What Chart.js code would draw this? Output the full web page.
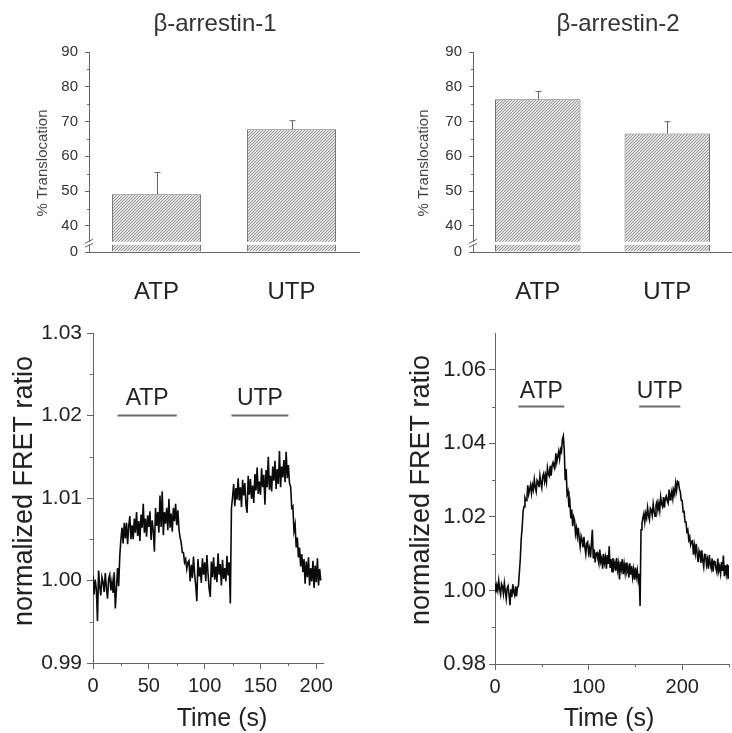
<!DOCTYPE html>
<html>
<head>
<meta charset="utf-8">
<script src="https://cdn.jsdelivr.net/npm/chart.js@4.4.1/dist/chart.umd.min.js"></script>
<style>
  html, body { margin: 0; padding: 0; background: #fff; }
  #wrap { position: relative; width: 732px; height: 733px; overflow: hidden; }
  canvas { position: absolute; }
</style>
</head>
<body>
<div id="wrap">
  <canvas id="barArr1" width="366" height="310" style="left:0;top:0"></canvas>
  <canvas id="barArr2" width="366" height="310" style="left:366px;top:0"></canvas>
  <canvas id="fretArr1" width="366" height="423" style="left:0;top:310px"></canvas>
  <canvas id="fretArr2" width="366" height="423" style="left:366px;top:310px"></canvas>
</div>
<script>
const FONT = '"Liberation Sans", Arial, Helvetica, sans-serif';
Chart.defaults.font.family = FONT;
Chart.defaults.color = '#333';
Chart.defaults.animation = false;

// ---- bar data (% translocation, mean and SEM) ----
const agonists = ['ATP', 'UTP'];
const arr1Translocation = [49.1, 67.8];
const arr1Sem = [6.4, 2.6];
const arr2Translocation = [76.4, 66.6];
const arr2Sem = [2.4, 3.5];
const barTicks = [40, 50, 60, 70, 80, 90];
const barMinorTicks = [45, 55, 65, 75, 85];
const barAxisBottom = 32.5;   // broken axis, labelled 0
const barBreakAt = 35;

// ---- FRET traces, one sample per second ----
const fretArr1 = [
  1.0006, 0.9983, 1.0001, 0.9990, 0.9951, 1.0012, 0.9993, 0.9982, 1.0004, 0.9998,
  0.9986, 1.0009, 0.9991, 0.9978, 1.0002, 1.0007, 0.9988, 0.9999, 0.9985, 1.0010,
  0.9966, 0.9990, 1.0015, 0.9993, 1.0030, 1.0050, 1.0064, 1.0045, 1.0070, 1.0051,
  1.0070, 1.0044, 1.0066, 1.0078, 1.0050, 1.0067, 1.0050, 1.0075, 1.0058, 1.0083,
  1.0054, 1.0072, 1.0048, 1.0080, 1.0064, 1.0093, 1.0058, 1.0075, 1.0053, 1.0079,
  1.0065, 1.0084, 1.0049, 1.0073, 1.0060, 1.0035, 1.0088, 1.0066, 1.0083, 1.0058,
  1.0103, 1.0065, 1.0108, 1.0055, 1.0083, 1.0069, 1.0088, 1.0061, 1.0099, 1.0064,
  1.0081, 1.0059, 1.0088, 1.0072, 1.0093, 1.0067, 1.0085, 1.0062, 1.0052, 1.0046,
  1.0034, 1.0034, 1.0022, 1.0026, 1.0014, 1.0022, 1.0024, 0.9999, 1.0019, 1.0003,
  1.0029, 1.0008, 0.9994, 0.9975, 1.0026, 1.0005, 1.0016, 0.9997, 1.0027, 1.0007,
  1.0022, 0.9999, 1.0031, 1.0009, 0.9990, 0.9980, 1.0023, 1.0004, 1.0028, 1.0001,
  1.0017, 0.9998, 1.0033, 1.0007, 1.0020, 0.9994, 1.0025, 1.0002, 1.0015, 0.9999,
  1.0030, 1.0006, 1.0022, 0.9972, 1.0088, 1.0101, 1.0117, 1.0090, 1.0112, 1.0098,
  1.0124, 1.0097, 1.0113, 1.0089, 1.0122, 1.0103, 1.0118, 1.0092, 1.0082, 1.0127,
  1.0104, 1.0123, 1.0099, 1.0115, 1.0094, 1.0129, 1.0109, 1.0137, 1.0105, 1.0120,
  1.0104, 1.0136, 1.0113, 1.0128, 1.0092, 1.0134, 1.0113, 1.0150, 1.0110, 1.0127,
  1.0108, 1.0138, 1.0121, 1.0145, 1.0111, 1.0135, 1.0117, 1.0157, 1.0113, 1.0138,
  1.0125, 1.0146, 1.0119, 1.0156, 1.0124, 1.0140, 1.0118, 1.0114, 1.0088, 1.0090,
  1.0060, 1.0068, 1.0040, 1.0052, 1.0028, 1.0040, 1.0017, 1.0032, 1.0010, 1.0026,
  0.9996, 1.0023, 1.0004, 1.0028, 0.9994, 1.0015, 0.9999, 1.0024, 0.9991, 1.0018,
  0.9998, 1.0027, 0.9994, 1.0014, 1.0000
];
const fretArr2 = [
  1.0019, 0.9994, 1.0014, 1.0000, 1.0026, 1.0003, 0.9989, 1.0018, 1.0011, 0.9991,
  1.0020, 0.9998, 0.9977, 1.0006, 1.0012, 0.9988, 0.9960, 1.0003, 0.9982, 1.0017,
  0.9996, 0.9987, 1.0011, 0.9984, 1.0008, 1.0012, 1.0048, 1.0085, 1.0140, 1.0170,
  1.0215, 1.0228, 1.0252, 1.0245, 1.0244, 1.0286, 1.0262, 1.0275, 1.0287, 1.0264,
  1.0286, 1.0274, 1.0302, 1.0281, 1.0269, 1.0300, 1.0295, 1.0281, 1.0312, 1.0292,
  1.0279, 1.0310, 1.0318, 1.0296, 1.0313, 1.0295, 1.0333, 1.0316, 1.0311, 1.0339,
  1.0312, 1.0340, 1.0348, 1.0338, 1.0334, 1.0373, 1.0349, 1.0364, 1.0378, 1.0358,
  1.0384, 1.0377, 1.0411, 1.0420, 1.0380, 1.0300, 1.0330, 1.0262, 1.0270, 1.0226,
  1.0240, 1.0196, 1.0220, 1.0175, 1.0200, 1.0191, 1.0154, 1.0170, 1.0147, 1.0170,
  1.0140, 1.0119, 1.0148, 1.0138, 1.0117, 1.0146, 1.0118, 1.0099, 1.0128, 1.0132,
  1.0102, 1.0115, 1.0090, 1.0127, 1.0165, 1.0087, 1.0112, 1.0076, 1.0101, 1.0103,
  1.0085, 1.0073, 1.0111, 1.0078, 1.0088, 1.0059, 1.0099, 1.0075, 1.0090, 1.0059,
  1.0096, 1.0072, 1.0120, 1.0061, 1.0085, 1.0051, 1.0088, 1.0062, 1.0075, 1.0053,
  1.0088, 1.0056, 1.0073, 1.0030, 1.0078, 1.0059, 1.0085, 1.0044, 1.0071, 1.0048,
  1.0076, 1.0052, 1.0062, 1.0035, 1.0074, 1.0043, 1.0066, 1.0036, 1.0057, 1.0029,
  1.0062, 1.0037, 1.0055, 1.0028, 1.0045, 0.9958, 1.0165, 1.0182, 1.0198, 1.0209,
  1.0186, 1.0209, 1.0197, 1.0225, 1.0204, 1.0192, 1.0223, 1.0218, 1.0204, 1.0235,
  1.0215, 1.0202, 1.0233, 1.0241, 1.0219, 1.0236, 1.0217, 1.0254, 1.0235, 1.0228,
  1.0254, 1.0225, 1.0251, 1.0257, 1.0244, 1.0237, 1.0274, 1.0247, 1.0260, 1.0272,
  1.0250, 1.0273, 1.0262, 1.0291, 1.0272, 1.0297, 1.0295, 1.0276, 1.0268, 1.0245,
  1.0244, 1.0214, 1.0215, 1.0186, 1.0188, 1.0160, 1.0165, 1.0138, 1.0146, 1.0124,
  1.0133, 1.0135, 1.0097, 1.0122, 1.0101, 1.0127, 1.0099, 1.0077, 1.0108, 1.0098,
  1.0075, 1.0109, 1.0081, 1.0064, 1.0098, 1.0097, 1.0069, 1.0084, 1.0059, 1.0096,
  1.0072, 1.0060, 1.0087, 1.0051, 1.0079, 1.0080, 1.0060, 1.0049, 1.0087, 1.0053,
  1.0065, 1.0046, 1.0077, 1.0053, 1.0095, 1.0039, 1.0068, 1.0045, 1.0071, 1.0031, 1.0069
];

// agonist application periods (s)
const stimNames = ['ATP', 'UTP'];
const stimOn1 = [22, 124];
const stimOff1 = [75, 175];
const stimLevel1 = 1.02;
const stimOn2 = [25, 154];
const stimOff2 = [74, 198];
const stimLevel2 = 1.05;

// axis ticks
const fretYTicks1 = [0.99, 1.00, 1.01, 1.02, 1.03];
const fretYMinor1 = [0.995, 1.005, 1.015, 1.025];
const timeTicks1 = [0, 50, 100, 150, 200];
const timeMinor1 = [25, 75, 125, 175];
const fretYTicks2 = [0.98, 1.00, 1.02, 1.04, 1.06];
const fretYMinor2 = [0.99, 1.01, 1.03, 1.05];
const timeTicks2 = [0, 100, 200];
const timeMinor2 = [50, 150, 250];

const AXIS = '#666';

// free text (titles, axis titles) at fixed canvas positions
const captions = {
  id: 'captions',
  afterDraw(chart, args, opts) {
    const ctx = chart.ctx;
    (opts.items || []).forEach(it => {
      ctx.save();
      ctx.font = it.size + 'px ' + FONT;
      ctx.fillStyle = it.color || '#333';
      ctx.textAlign = 'center';
      ctx.textBaseline = 'alphabetic';
      ctx.translate(it.x, it.y);
      if (it.rotate) ctx.rotate(-Math.PI / 2);
      ctx.fillText(it.text, 0, 0);
      ctx.restore();
    });
  }
};

// short minor tick marks
const minorTicks = {
  id: 'minorTicks',
  afterDraw(chart, args, opts) {
    const {ctx, chartArea, scales} = chart;
    const len = opts.len || 3;
    ctx.save();
    ctx.strokeStyle = AXIS;
    ctx.lineWidth = 1;
    ctx.beginPath();
    (opts.x || []).forEach(v => {
      const px = Math.round(scales.x.getPixelForValue(v)) + 0.5;
      ctx.moveTo(px, chartArea.bottom);
      ctx.lineTo(px, chartArea.bottom + len);
    });
    (opts.y || []).forEach(v => {
      const py = Math.round(scales.y.getPixelForValue(v)) + 0.5;
      ctx.moveTo(chartArea.left, py);
      ctx.lineTo(chartArea.left - len, py);
    });
    ctx.stroke();
    ctx.restore();
  }
};

// error bars + axis break on the bar charts
const barExtras = {
  id: 'barExtras',
  afterDatasetsDraw(chart, args, opts) {
    if (!opts.errors) return;
    const {ctx, chartArea, scales: {y}} = chart;
    const values = chart.data.datasets[0].data;
    ctx.save();
    ctx.strokeStyle = AXIS;
    ctx.lineWidth = 1;
    chart.getDatasetMeta(0).data.forEach((bar, i) => {
      const top = y.getPixelForValue(values[i] + opts.errors[i]);
      const x = Math.round(bar.x) + 0.5;
      ctx.beginPath();
      ctx.moveTo(x, bar.y);
      ctx.lineTo(x, top);
      ctx.moveTo(x - 3, top + 0.5);
      ctx.lineTo(x + 3, top + 0.5);
      ctx.stroke();
    });
    const yb = y.getPixelForValue(opts.breakAt);
    ctx.fillStyle = '#fff';
    ctx.fillRect(chartArea.left - 4, yb - 1.5, chartArea.width + 4, 3);
    ctx.beginPath();
    [-2, 2].forEach(k => {
      ctx.moveTo(chartArea.left - 4, yb + k + 2);
      ctx.lineTo(chartArea.left + 4, yb + k - 2);
    });
    ctx.stroke();
    ctx.restore();
  }
};

// agonist bar labels
const stimLabels = {
  id: 'stimLabels',
  afterDatasetsDraw(chart, args, opts) {
    if (!opts.names) return;
    const {ctx, scales: {x, y}} = chart;
    ctx.save();
    ctx.font = '23px ' + FONT;
    ctx.fillStyle = '#222';
    ctx.textAlign = 'center';
    ctx.textBaseline = 'alphabetic';
    opts.names.forEach((name, i) => {
      const cx = x.getPixelForValue((opts.on[i] + opts.off[i]) / 2);
      ctx.fillText(name, cx, y.getPixelForValue(opts.level) - opts.gap);
    });
    ctx.restore();
  }
};

Chart.register(captions, minorTicks, barExtras, stimLabels);

function hatch() {
  const c = document.createElement('canvas');
  c.width = 3;
  c.height = 3;
  const g = c.getContext('2d');
  g.fillStyle = '#e2e2e2';
  g.fillRect(0, 0, 3, 3);
  g.strokeStyle = '#8e8e8e';
  g.lineWidth = 0.9;
  g.beginPath();
  g.moveTo(0, 3); g.lineTo(3, 0);
  g.moveTo(-1, 1); g.lineTo(1, -1);
  g.moveTo(2, 4); g.lineTo(4, 2);
  g.stroke();
  return g.createPattern(c, 'repeat');
}

function barChart(id, values, errors, title, layout) {
  return new Chart(document.getElementById(id), {
    type: 'bar',
    data: {
      labels: agonists,
      datasets: [{
        data: values,
        base: barAxisBottom,
        backgroundColor: hatch(),
        borderColor: '#6e6e6e',
        borderWidth: 1,
        barPercentage: 0.66,
        categoryPercentage: 1
      }]
    },
    options: {
      responsive: false,
      layout: { padding: { left: 0, right: layout.right, top: 52, bottom: 0 } },
      plugins: {
        legend: { display: false },
        tooltip: { enabled: false },
        minorTicks: { y: barMinorTicks, len: 2 },
        barExtras: { errors: errors, breakAt: barBreakAt },
        captions: { items: [
          { text: title, x: layout.titleX, y: 31, size: 24, color: '#333' },
          { text: '% Translocation', x: layout.yTitleX, y: 163, size: 15, rotate: true, color: '#444' }
        ] }
      },
      scales: {
        x: {
          grid: { display: false },
          border: { color: AXIS },
          ticks: { font: { size: 24 }, color: '#222', padding: 18 },
          afterFit: s => { s.height = 58; }
        },
        y: {
          min: barAxisBottom,
          max: 90,
          afterBuildTicks: s => { s.ticks = [barAxisBottom].concat(barTicks).map(v => ({ value: v })); },
          ticks: { font: { size: 15 }, color: '#333', padding: 7, callback: v => v === barAxisBottom ? '0' : v },
          grid: { drawOnChartArea: false, tickLength: 4, color: AXIS },
          border: { color: AXIS },
          afterFit: s => { s.width = layout.axisX; }
        }
      }
    }
  });
}

function fretChart(id, trace, cfg) {
  const datasets = [{
    data: trace.map((v, i) => ({ x: i, y: v })),
    borderColor: '#0a0a0a',
    borderWidth: 1.6,
    pointRadius: 0,
    tension: 0
  }];
  stimNames.forEach((n, i) => {
    datasets.push({
      data: [{ x: cfg.on[i], y: cfg.level }, { x: cfg.off[i], y: cfg.level }],
      borderColor: '#6a6a6a',
      borderWidth: 2,
      pointRadius: 0
    });
  });
  return new Chart(document.getElementById(id), {
    type: 'line',
    data: { datasets: datasets },
    options: {
      responsive: false,
      layout: { padding: { left: 0, right: cfg.padRight, top: 23, bottom: 0 } },
      plugins: {
        legend: { display: false },
        tooltip: { enabled: false },
        minorTicks: { x: cfg.xMinor, y: cfg.yMinor, len: 3 },
        stimLabels: { names: stimNames, on: cfg.on, off: cfg.off, level: cfg.level, gap: cfg.gap },
        captions: { items: [
          { text: 'normalized FRET ratio', x: cfg.yTitleX, y: cfg.yTitleY, size: 27, rotate: true, color: '#222' },
          { text: 'Time (s)', x: cfg.xTitleX, y: 416, size: 25, color: '#222' }
        ] }
      },
      scales: {
        x: {
          type: 'linear',
          min: 0,
          max: cfg.xMax,
          afterBuildTicks: s => { s.ticks = cfg.xTicks.map(v => ({ value: v })); },
          ticks: { font: { size: 20 }, color: '#222', padding: 5, maxRotation: 0, autoSkip: false },
          grid: { drawOnChartArea: false, tickLength: 6, color: AXIS },
          border: { color: AXIS },
          afterFit: s => { s.height = cfg.xHeight; }
        },
        y: {
          min: cfg.yMin,
          max: cfg.yMax,
          afterBuildTicks: s => { s.ticks = cfg.yTicks.map(v => ({ value: v })); },
          ticks: { font: { size: cfg.yFont }, color: '#222', padding: cfg.yPad, callback: v => v.toFixed(2) },
          grid: { drawOnChartArea: false, tickLength: 6, color: AXIS },
          border: { color: AXIS },
          afterFit: s => { s.width = cfg.axisX; }
        }
      }
    }
  });
}

barChart('barArr1', arr1Translocation, arr1Sem, '\u03b2-arrestin-1',
  { axisX: 89, right: 7, titleX: 215, yTitleX: 47 });
barChart('barArr2', arr2Translocation, arr2Sem, '\u03b2-arrestin-2',
  { axisX: 107, right: 0, titleX: 252, yTitleX: 62 });

fretChart('fretArr1', fretArr1, {
  on: stimOn1, off: stimOff1, level: stimLevel1, gap: 11,
  xMax: 206, xTicks: timeTicks1, xMinor: timeMinor1,
  yMin: 0.99, yMax: 1.03, yTicks: fretYTicks1, yMinor: fretYMinor1,
  axisX: 93, xHeight: 70, padRight: 43, yFont: 21, yPad: 5,
  yTitleX: 32, yTitleY: 181, xTitleX: 222
});
fretChart('fretArr2', fretArr2, {
  on: stimOn2, off: stimOff2, level: stimLevel2, gap: 9,
  xMax: 250, xTicks: timeTicks2, xMinor: timeMinor2,
  yMin: 0.98, yMax: 1.07, yTicks: fretYTicks2, yMinor: fretYMinor2,
  axisX: 129, xHeight: 69, padRight: 3, yFont: 22, yPad: 3,
  yTitleX: 63, yTitleY: 180, xTitleX: 243
});
</script>
</body>
</html>
